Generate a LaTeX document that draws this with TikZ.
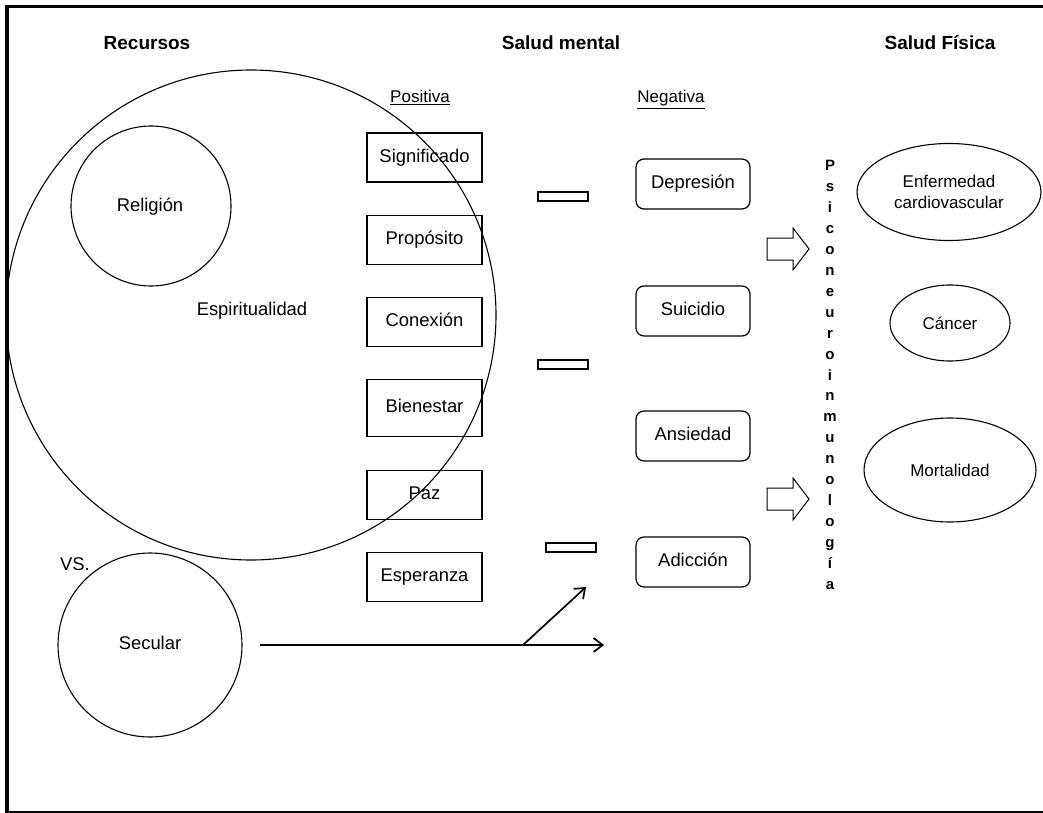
\documentclass[tikz,border=0pt]{standalone}
\usepackage{fontspec}
\setmainfont{Liberation Sans}
\usetikzlibrary{shapes.geometric,arrows.meta}
\begin{document}
\begin{tikzpicture}[x=1pt,y=-1pt,
  txt/.style={font=\fontsize{18.4}{22}\selectfont},
  head/.style={font=\bfseries\fontsize{19}{23}\selectfont, anchor=base, inner sep=0},
  sub/.style={font=\fontsize{17}{20}\selectfont, anchor=base, inner sep=0},
  posbox/.style={draw, line width=1.2pt, minimum width=115pt, minimum height=49pt,
    inner sep=0, txt, text height=13.2pt, text depth=3.9pt},
  negbox/.style={draw, line width=1.2pt, rounded corners=8pt, minimum width=114pt,
    minimum height=50pt, inner sep=0, txt, text height=13.2pt, text depth=3.9pt},
  ring/.style={draw, circle, line width=1.1pt, inner sep=0},
  oval/.style={draw, ellipse, line width=1.1pt, inner sep=0, align=center,
    font=\fontsize{17}{21.7}\selectfont},
  bar/.style={draw, line width=1.2pt, minimum width=50pt, minimum height=9pt, inner sep=0},
  letter/.style={font=\bfseries\fontsize{15}{18}\selectfont, anchor=base, inner sep=0},
  link/.style={line width=1.7pt, -{Straight Barb[length=9pt,width=14pt,line width=1.7pt]}},
  blockarrow/.style={draw, line width=1pt, fill=white}
]
\useasboundingbox (0,0) rectangle (1043,813);

% frame
\draw[line width=3pt] (5.5,7) -- (1043,7);
\draw[line width=3.5pt] (7,5.5) -- (7,813);
\draw[line width=1.5pt] (7,812) -- (1043,812);

% column headings
\node[head] (hres) at (147,50) {Recursos};
\node[head] (hmen) at (561,50) {Salud mental};
\node[head] (hfis) at (940,50) {Salud Física};
\node[sub] (hpos) at (420,103) {\underline{Positiva}};
\node[sub] (hneg) at (671,103) {\underline{Negativa}};

% resources
\node[ring, minimum size=490pt] (espir) at (251,315) {};
\node[txt] (espirt) at (252,311) {Espiritualidad};
\node[ring, minimum size=160pt] (relig) at (151,206) {};
\node[txt] (religt) at (150,207) {Religión};
\node[txt, anchor=base, inner sep=0] (vs) at (75,570) {VS.};
\node[ring, minimum size=184pt] (secul) at (150,645) {};
\node[txt] (secult) at (150,643) {Secular};

% positive mental health
\node[posbox] (signif) at (424.5,157.5) {Significado};
\node[posbox] (propos) at (424.5,240) {Propósito};
\node[posbox] (conex) at (424.5,322) {Conexión};
\node[posbox, minimum height=57pt] (bienes) at (424.5,408) {Bienestar};
\node[posbox] (paz) at (424.5,495) {Paz};
\node[posbox] (esper) at (424.5,577) {Esperanza};

% minus signs
\node[bar] (minus1) at (563,196.5) {};
\node[bar] (minus2) at (563,364.5) {};
\node[bar] (minus3) at (571,547.5) {};

% negative mental health
\node[negbox] (depr) at (693,184) {Depresión};
\node[negbox] (suic) at (693,311) {Suicidio};
\node[negbox] (ansi) at (693,436) {Ansiedad};
\node[negbox] (adic) at (693,562) {Adicción};

% secular pathways
\coordinate (secout) at (260,645);
\coordinate (fork) at (523,645);
\coordinate (fwd) at (604,645);
\coordinate (up) at (586,587);
\draw[link] (secout) -- (fwd);
\draw[link] (fork) -- (up);

% block arrows
\draw[blockarrow] (767,238) -- (793,238) -- (793,228) -- (809,249) -- (793,270) -- (793,260) -- (767,260) -- cycle;
\draw[blockarrow] (767,488) -- (793,488) -- (793,478) -- (809,499) -- (793,520) -- (793,510) -- (767,510) -- cycle;

% vertical label
\foreach \l [count=\i from 0] in {P,s,i,c,o,n,e,u,r,o,i,n,m,u,n,o,l,o,g,í,a}
  \node[letter] (psi\i) at (830,{171+20.9*\i}) {\l};

% physical health
\node[oval, minimum width=184pt, minimum height=97pt] (cardio) at (949,192) {Enfermedad\\cardiovascular};
\node[oval, minimum width=120pt, minimum height=76pt] (cancer) at (950,323) {Cáncer};
\node[oval, minimum width=172pt, minimum height=104pt] (mortal) at (950,470) {Mortalidad};
\end{tikzpicture}
\end{document}
